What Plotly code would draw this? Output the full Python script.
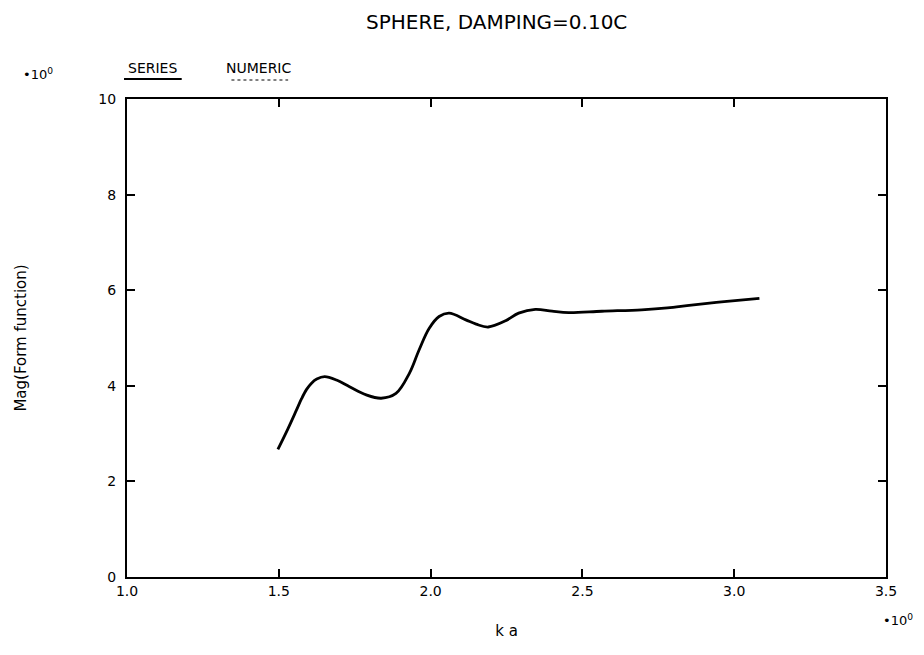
import plotly.graph_objects as go

# Data
ka = [1.497, 1.53, 1.558, 1.575, 1.591, 1.607, 1.625, 1.651, 1.69, 1.733, 1.788, 1.837, 1.886,
      1.930, 1.962, 1.995, 2.028, 2.061, 2.116, 2.15, 2.19, 2.247, 2.290, 2.345,
      2.400, 2.455, 2.564, 2.695, 2.780, 2.859, 2.967, 3.083]
mag = [2.67, 3.10, 3.49, 3.73, 3.92, 4.05, 4.14, 4.19, 4.12, 3.98, 3.81, 3.74, 3.84,
       4.26, 4.75, 5.20, 5.45, 5.52, 5.38, 5.29, 5.23, 5.36, 5.52, 5.60,
       5.56, 5.53, 5.56, 5.59, 5.63, 5.69, 5.76, 5.83]

x_ticks = [1.0, 1.5, 2.0, 2.5, 3.0, 3.5]
x_tick_labels = ["1.0", "1.5", "2.0", "2.5", "3.0", "3.5"]
y_ticks = [0, 2, 4, 6, 8, 10]
y_tick_labels = ["0", "2", "4", "6", "8", "10"]

FONT = "DejaVu Sans, sans-serif"

# plot-area pixel box in the page (for placing the free texts)
PL, PR, PT, PB = 123, 886, 99, 577


def px(x):
    return (x - PL) / (PR - PL)


def py(y):
    return (PB - y) / (PB - PT)


fig = go.Figure()
fig.add_trace(go.Scatter(x=ka, y=mag, mode="lines",
                         line=dict(color="black", width=2.8, shape="spline", smoothing=1.0),
                         showlegend=False, hoverinfo="skip"))

axis_common = dict(showgrid=False, zeroline=False, showline=True, linecolor="black",
                   linewidth=2, mirror="allticks", ticks="inside", ticklen=8,
                   tickcolor="black", tickwidth=1.5,
                   tickfont=dict(family=FONT, size=14, color="black"))

fig.update_xaxes(range=[1.0, 3.5], tickvals=x_ticks, ticktext=x_tick_labels,
                 title=dict(text="k a", font=dict(family=FONT, size=15, color="black"), standoff=28),
                 **axis_common)
fig.update_yaxes(range=[0, 10], tickvals=y_ticks, ticktext=y_tick_labels,
                 ticklabelstandoff=6,
                 title=dict(text="Mag(Form function)", font=dict(family=FONT, size=15, color="black"), standoff=68),
                 **axis_common)

anns = [
    dict(text="SPHERE, DAMPING=0.10C", x=494, y=22, size=20),
    dict(text="•10<sup>0</sup>", x=34, y=74, size=13),
    dict(text="SERIES", x=149, y=68, size=14),
    dict(text="NUMERIC", x=256, y=68, size=14),
    dict(text="•10<sup>0</sup>", x=898, y=620, size=13),
]
for a in anns:
    fig.add_annotation(text=a["text"], xref="paper", yref="paper",
                       x=px(a["x"]), y=py(a["y"]), showarrow=False,
                       xanchor="center", yanchor="middle",
                       font=dict(family=FONT, size=a["size"], color="black"))

# legend sample lines under the legend labels
fig.add_shape(type="line", xref="paper", yref="paper",
              x0=px(120), x1=px(178), y0=py(79), y1=py(79),
              line=dict(color="black", width=2))
fig.add_shape(type="line", xref="paper", yref="paper",
              x0=px(228), x1=px(285), y0=py(80), y1=py(80),
              line=dict(color="black", width=1, dash="dot"))

# the page body has an 8px margin, so margins are reduced by 8 on left/top
fig.update_layout(width=924, height=655, plot_bgcolor="white", paper_bgcolor="white",
                  margin=dict(l=115, r=46, t=91, b=86))

fig.write_html("out.html")
